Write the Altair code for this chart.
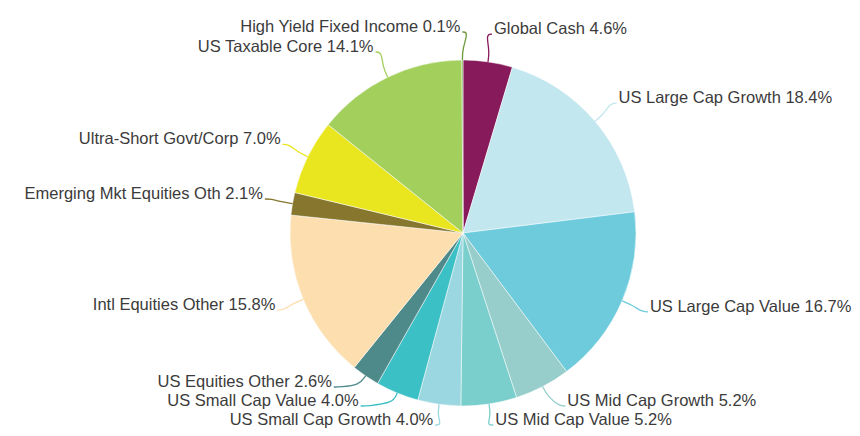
import math
import pandas as pd
import altair as alt

categories = [
    "Global Cash", "US Large Cap Growth", "US Large Cap Value", "US Mid Cap Growth",
    "US Mid Cap Value", "US Small Cap Growth", "US Small Cap Value", "US Equities Other",
    "Intl Equities Other", "Emerging Mkt Equities Oth", "Ultra-Short Govt/Corp",
    "US Taxable Core", "High Yield Fixed Income",
]
values = [4.6, 18.4, 16.7, 5.2, 5.2, 4.0, 4.0, 2.6, 15.8, 2.1, 7.0, 14.1, 0.1]
colors = [
    "#861A5A", "#C3E7EF", "#6DCBDC", "#97CECC", "#7ACFCD", "#9AD7E0", "#3BC0C5",
    "#4F8A8A", "#FDDEAE", "#86762E", "#E9E620", "#A3CF5C", "#6E9A3C",
]

R = 173        # pie radius (px)
RL = 201       # label anchor radius (px)
GAP = 19       # min vertical spacing between labels on one side
YMIN = -192    # lowest label baseline allowed (keeps text inside the page)
TXT_GAP = 2

total = sum(values)
mids = []
cum = 0.0
for v in values:
    mids.append((cum + v / 2) / total * 2 * math.pi)
    cum += v

labels = [f"{c} {v:.1f}%" for c, v in zip(categories, values)]
side = ["L" if math.sin(a) < 0 else "R" for a in mids]
lx = [RL * math.sin(a) for a in mids]
ly = [max(RL * math.cos(a), YMIN) for a in mids]

# spread labels vertically per side (bottom-most first, pushing upward)
for s in ("L", "R"):
    idx = sorted([i for i in range(len(values)) if side[i] == s], key=lambda i: ly[i])
    prev = None
    for i in idx:
        if prev is not None and ly[i] < prev + GAP:
            ly[i] = prev + GAP
            h = math.sqrt(max(RL * RL - ly[i] * ly[i], 0.0))
            lx[i] = -h if s == "L" else h
        prev = ly[i]

slices = pd.DataFrame({"cat": categories, "value": values, "idx": list(range(len(values)))})

lab = pd.DataFrame({
    "label": labels,
    "side": side,
    "x": [x - TXT_GAP if s == "L" else x + TXT_GAP for x, s in zip(lx, side)],
    "y": ly,
})

rows = []
for i, a in enumerate(mids):
    sx, cy = math.sin(a), math.cos(a)
    toward = 1 if side[i] == "L" else -1
    pts = [
        (R * sx, R * cy),
        ((R + 11) * sx, (R + 11) * cy),
        (lx[i] + toward * 6, ly[i]),
        (lx[i], ly[i]),
    ]
    for k, (px, py) in enumerate(pts):
        rows.append({"cat": categories[i], "k": k, "x": px, "y": py})
lines = pd.DataFrame(rows)

xs = alt.Scale(domain=[-389, 389], nice=False, zero=False)
ys = alt.Scale(domain=[-195, 195], nice=False, zero=False)
cscale = alt.Scale(domain=categories, range=colors)

pie = alt.Chart(slices).mark_arc(outerRadius=R, stroke="#ffffff", strokeWidth=0.5).encode(
    theta=alt.Theta("value:Q", stack=True),
    order=alt.Order("idx:Q"),
    color=alt.Color("cat:N", scale=cscale, legend=None),
)

conn = alt.Chart(lines).mark_line(interpolate="basis", strokeWidth=1.3).encode(
    x=alt.X("x:Q", scale=xs, axis=None),
    y=alt.Y("y:Q", scale=ys, axis=None),
    detail="cat:N",
    order=alt.Order("k:Q"),
    color=alt.Color("cat:N", scale=cscale, legend=None),
)

txt_style = dict(font="Liberation Sans", fontSize=16.5, color="#3b3b3b", baseline="alphabetic")
txt_left = alt.Chart(lab).transform_filter(alt.datum.side == "L").mark_text(align="right", **txt_style).encode(
    x=alt.X("x:Q", scale=xs, axis=None),
    y=alt.Y("y:Q", scale=ys, axis=None),
    text="label:N",
)
txt_right = alt.Chart(lab).transform_filter(alt.datum.side == "R").mark_text(align="left", **txt_style).encode(
    x=alt.X("x:Q", scale=xs, axis=None),
    y=alt.Y("y:Q", scale=ys, axis=None),
    text="label:N",
)

chart = alt.layer(pie, conn, txt_left, txt_right).properties(
    width=778, height=390,
    padding={"left": 66, "top": 30, "right": 0, "bottom": 0},
    autosize="none",
).configure_view(stroke=None)

chart.save("out.html", embed_options={"renderer": "svg", "actions": False})
